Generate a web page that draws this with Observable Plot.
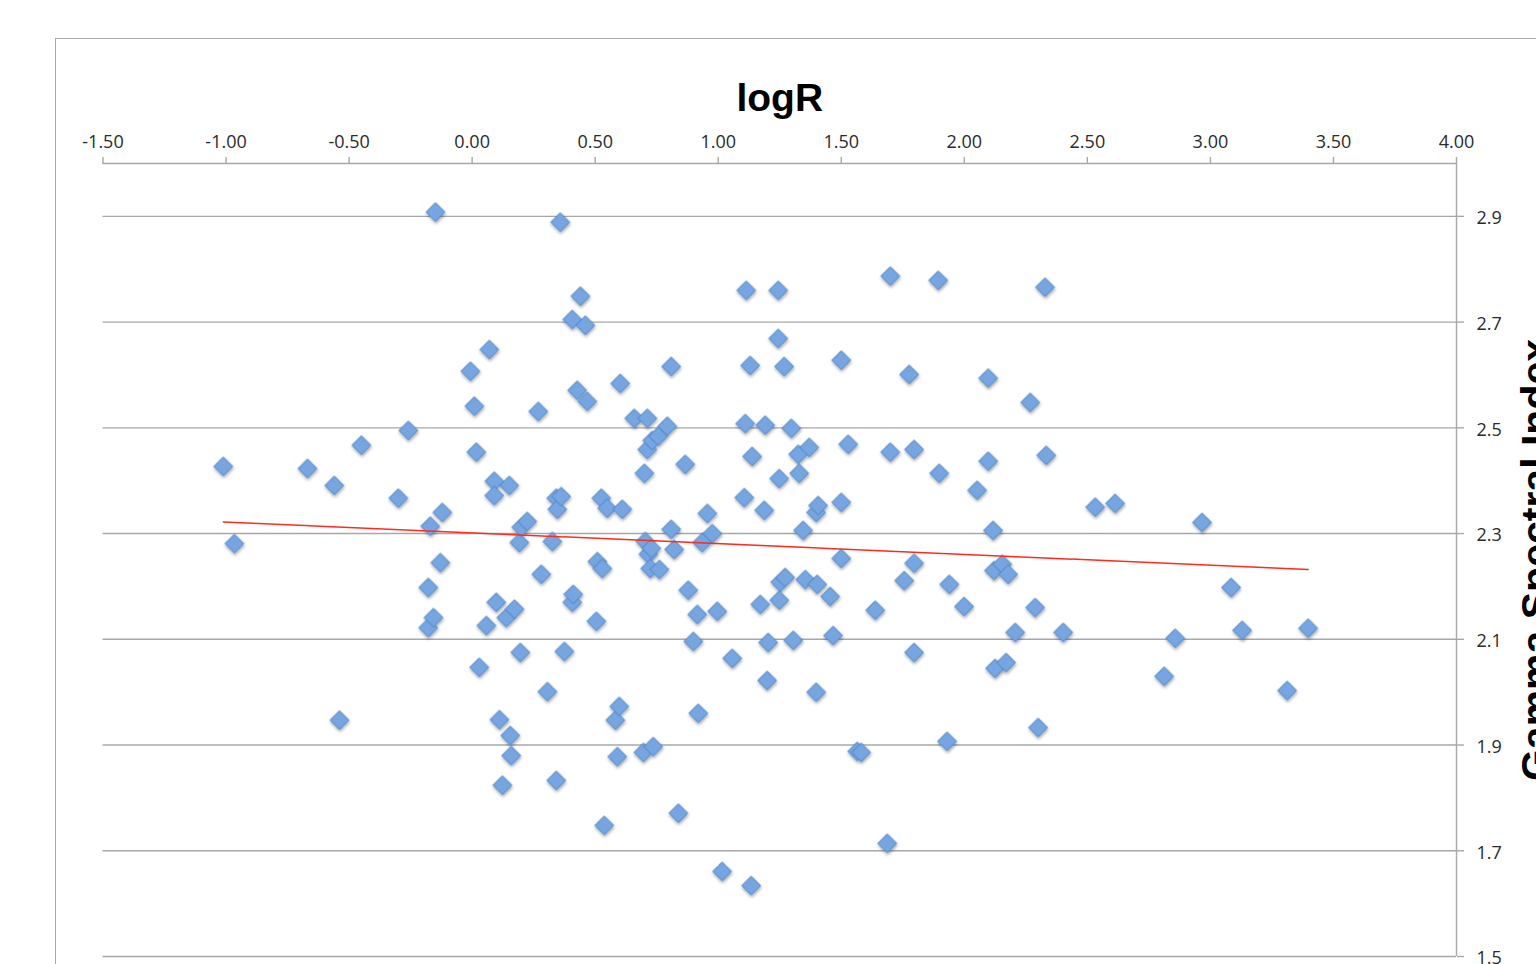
<!DOCTYPE html>
<html>
<head>
<meta charset="utf-8">
<script src="https://cdn.jsdelivr.net/npm/d3@7"></script>
<script src="https://cdn.jsdelivr.net/npm/@observablehq/plot@0.6"></script>
<style>
  html, body { margin: 0; padding: 0; background: #fff; overflow: hidden; }
  #chart { position: absolute; left: 0; top: 0; }
  #frame { position: absolute; left: 55px; top: 38px; width: 1700px; height: 1200px;
           border: 1.6px solid #a9a9a9; pointer-events: none; }
</style>
</head>
<body>
<div id="chart"></div>
<div id="frame"></div>
<script>
const logR = [
  -1.011, -0.966, -0.669, -0.560, -0.539, -0.450, -0.300, -0.259, -0.178, -0.170,
  -0.178, -0.157, -0.149, -0.129, -0.121, -0.007, 0.009, 0.017, 0.029, 0.058,
  0.070, 0.090, 0.090, 0.098, 0.111, 0.123, 0.139, 0.151, 0.155, 0.159,
  0.172, 0.192, 0.196, 0.200, 0.224, 0.269, 0.281, 0.306, 0.326, 0.342,
  0.342, 0.346, 0.358, 0.362, 0.375, 0.407, 0.411, 0.407, 0.427, 0.440,
  0.460, 0.468, 0.505, 0.509, 0.525, 0.529, 0.537, 0.549, 0.582, 0.590,
  0.598, 0.602, 0.610, 0.659, 0.696, 0.700, 0.704, 0.712, 0.712, 0.716,
  0.724, 0.728, 0.732, 0.736, 0.756, 0.761, 0.793, 0.809, 0.809, 0.821,
  0.838, 0.866, 0.878, 0.899, 0.915, 0.919, 0.935, 0.956, 0.976, 0.996,
  1.016, 1.057, 1.106, 1.110, 1.114, 1.130, 1.134, 1.138, 1.171, 1.187,
  1.191, 1.199, 1.203, 1.244, 1.244, 1.248, 1.248, 1.252, 1.268, 1.272,
  1.297, 1.305, 1.325, 1.329, 1.345, 1.354, 1.370, 1.398, 1.398, 1.402,
  1.406, 1.455, 1.467, 1.500, 1.500, 1.500, 1.528, 1.565, 1.581, 1.638,
  1.687, 1.699, 1.699, 1.756, 1.776, 1.796, 1.796, 1.796, 1.894, 1.898,
  1.930, 1.939, 1.999, 2.052, 2.097, 2.097, 2.117, 2.121, 2.125, 2.154,
  2.170, 2.178, 2.207, 2.268, 2.288, 2.300, 2.328, 2.333, 2.402, 2.532,
  2.613, 2.812, 2.857, 2.966, 3.084, 3.129, 3.312, 3.397
];
const gamma = [
  2.427, 2.281, 2.423, 2.391, 1.947, 2.467, 2.367, 2.495, 2.198, 2.314,
  2.122, 2.141, 2.908, 2.245, 2.340, 2.607, 2.541, 2.454, 2.047, 2.126,
  2.648, 2.399, 2.372, 2.170, 1.948, 1.824, 2.141, 2.391, 1.918, 1.880,
  2.157, 2.283, 2.075, 2.312, 2.323, 2.531, 2.223, 2.001, 2.285, 1.833,
  2.367, 2.346, 2.889, 2.370, 2.077, 2.170, 2.185, 2.705, 2.571, 2.749,
  2.694, 2.550, 2.134, 2.247, 2.367, 2.234, 1.748, 2.348, 1.947, 1.878,
  1.973, 2.584, 2.346, 2.518, 1.886, 2.414, 2.285, 2.518, 2.459, 2.261,
  2.234, 2.272, 2.476, 1.897, 2.484, 2.232, 2.503, 2.308, 2.616, 2.270,
  1.771, 2.431, 2.193, 2.096, 2.147, 1.960, 2.283, 2.338, 2.300, 2.153,
  1.661, 2.064, 2.368, 2.508, 2.760, 2.618, 1.634, 2.446, 2.166, 2.344,
  2.505, 2.022, 2.094, 2.760, 2.669, 2.404, 2.174, 2.208, 2.616, 2.217,
  2.499, 2.098, 2.450, 2.414, 2.306, 2.213, 2.463, 2.340, 2.000, 2.204,
  2.353, 2.181, 2.107, 2.628, 2.359, 2.253, 2.469, 1.888, 1.886, 2.155,
  1.714, 2.787, 2.454, 2.211, 2.601, 2.244, 2.075, 2.459, 2.779, 2.414,
  1.907, 2.204, 2.162, 2.382, 2.594, 2.437, 2.306, 2.230, 2.045, 2.242,
  2.056, 2.223, 2.113, 2.548, 2.160, 1.933, 2.766, 2.448, 2.113, 2.350,
  2.357, 2.030, 2.102, 2.321, 2.198, 2.117, 2.003, 2.121
];
const trendX = [-1.011, 3.397];
const trendY = [2.322, 2.232];
const xTicks = [-1.5, -1.0, -0.5, 0.0, 0.5, 1.0, 1.5, 2.0, 2.5, 3.0, 3.5, 4.0];
const yTicks = [1.5, 1.7, 1.9, 2.1, 2.3, 2.5, 2.7, 2.9];
const title = "logR";
const yTitle = "Gamma Spectral Index";

const points = logR.map((x, i) => ({x, y: gamma[i]}));
const trend = trendX.map((x, i) => ({x, y: trendY[i]}));
const gridColor = "#a8a8a8";

const chart = Plot.plot({
  width: 1536,
  height: 964,
  marginLeft: 102.5,
  marginRight: 80,
  marginTop: 163,
  marginBottom: 8,
  style: {background: "transparent", fontFamily: "'Open Sans', sans-serif", overflow: "visible"},
  x: {domain: [-1.5, 4.0]},
  y: {domain: [1.5, 3.0]},
  marks: [
    Plot.gridY(yTicks, {stroke: gridColor, strokeOpacity: 1, strokeWidth: 1.4}),
    Plot.ruleY([3.0], {stroke: gridColor, strokeWidth: 1.4}),
    Plot.ruleX([4.0], {stroke: gridColor, strokeWidth: 1.4}),
    Plot.axisX({anchor: "top", ticks: xTicks, tickSize: 7, stroke: gridColor, strokeWidth: 1.4, fill: "none", label: null}),
    Plot.axisX({anchor: "top", ticks: xTicks, tickSize: 0, tickPadding: 16, tickFormat: d => d.toFixed(2),
                fill: "#2a2a2a", fontSize: 18, label: null}),
    Plot.axisY({anchor: "right", ticks: yTicks, tickSize: 7, stroke: gridColor, strokeWidth: 1.4, fill: "none", label: null}),
    Plot.axisY({anchor: "right", ticks: yTicks, tickSize: 0, tickPadding: 20, dy: 2, tickFormat: d => d.toFixed(1),
                fill: "#2a2a2a", fontSize: 18, label: null}),
    Plot.dot(points, {x: "x", y: "y", symbol: "diamond2", r: 8.5, fill: "#75a6e1", stroke: "#4a7fc0", strokeWidth: 1}),
    Plot.line(trend, {x: "x", y: "y", stroke: "#ff2b1c", strokeWidth: 1.5}),
    Plot.text([title], {frameAnchor: "top", dy: -53, lineAnchor: "bottom", textAnchor: "middle", fontSize: 39, fontWeight: "bold",
                        fontFamily: "'Liberation Sans', Arial, sans-serif", fill: "#000"}),
    Plot.text([yTitle], {frameAnchor: "right", dx: 93, rotate: -90, lineAnchor: "bottom", textAnchor: "middle", fontSize: 41, fontWeight: "bold",
                         fontFamily: "'Liberation Sans', Arial, sans-serif", fill: "#000"})
  ]
});

// soft drop shadow under the markers
const svg = d3.select(chart.tagName.toLowerCase() === "svg" ? chart : chart.querySelector("svg"));
const defs = svg.insert("defs", ":first-child");
const f = defs.append("filter").attr("id", "dshadow").attr("x", "-50%").attr("y", "-50%").attr("width", "200%").attr("height", "200%");
f.append("feDropShadow").attr("dx", 0.5).attr("dy", 2).attr("stdDeviation", 1.4)
  .attr("flood-color", "#000").attr("flood-opacity", 0.35);
svg.selectAll('g[aria-label="dot"]').attr("filter", "url(#dshadow)");

document.getElementById("chart").appendChild(chart);
</script>
</body>
</html>
